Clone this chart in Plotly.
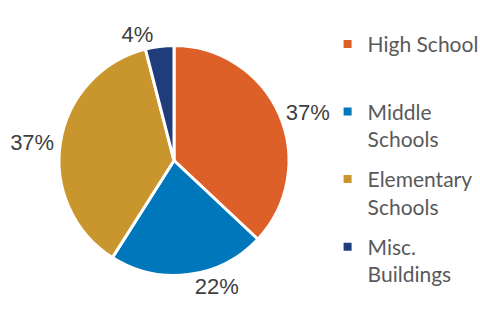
import plotly.graph_objects as go

categories = ["High School", "Middle Schools", "Elementary Schools", "Misc. Buildings"]
legend_labels = ["High School<br>&nbsp;", "Middle<br>Schools", "Elementary<br>Schools", "Misc.<br>Buildings"]
values = [37, 22, 37, 4]
colors = ["#DD6028", "#0077BB", "#C9962E", "#1F3D7A"]

cx, cy, r = 174, 160.5, 115
fig = go.Figure()
fig.add_trace(go.Pie(
    labels=categories,
    values=values,
    sort=False,
    direction="clockwise",
    rotation=0,
    marker=dict(colors=colors, line=dict(color="white", width=3)),
    textinfo="percent",
    texttemplate="%{value}%",
    textposition="outside",
    outsidetextfont=dict(family="Liberation Sans, Arial", size=22, color="#404040"),
    showlegend=False,
    hoverinfo="label+percent",
    domain=dict(x=[(cx - r) / 480, (cx + r) / 480],
                y=[(311 - cy - r) / 311, (311 - cy + r) / 311]),
))

for name, lab, col in zip(categories, legend_labels, colors):
    fig.add_trace(go.Scatter(
        x=[None], y=[None], mode="markers",
        name=lab, legendgroup=name,
        marker=dict(symbol="square", size=8, color=col),
    ))

fig.update_layout(
    width=480, height=311,
    margin=dict(l=0, r=0, t=0, b=0, autoexpand=False),
    paper_bgcolor="white", plot_bgcolor="white",
    xaxis=dict(visible=False), yaxis=dict(visible=False),
    legend=dict(
        x=0.6825, y=0.9236, xanchor="left", yanchor="top",
        font=dict(family="Lato", size=21, color="#595959"),
        valign="top", tracegroupgap=10, itemwidth=30,
        bgcolor="rgba(0,0,0,0)",
    ),
)

fig.write_html("out.html", config={"displayModeBar": False},
               post_script="document.body.style.margin='0';")
